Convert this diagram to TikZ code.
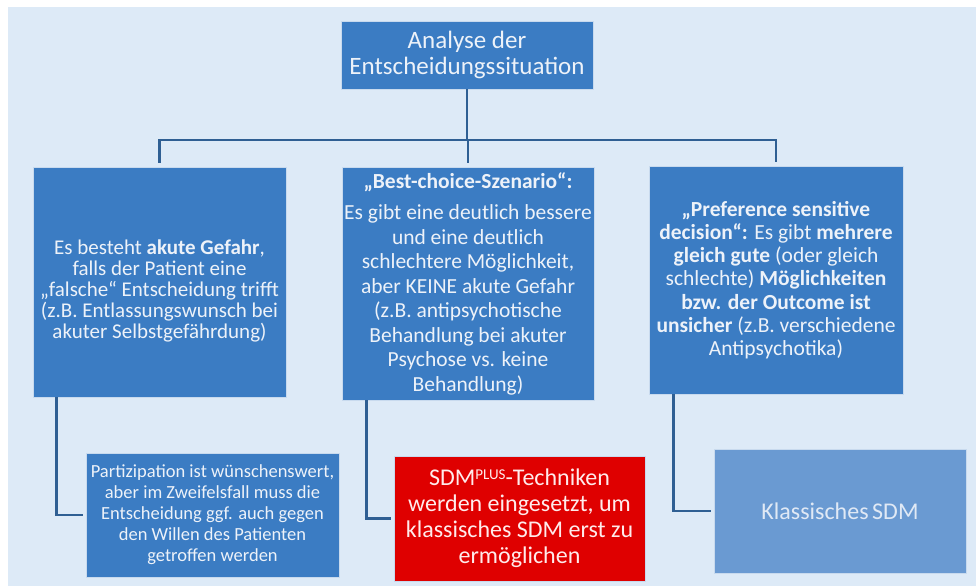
\documentclass[tikz,border=0pt]{standalone}
\usepackage{fontspec}
\setmainfont{Carlito}
\definecolor{sdmbg}{HTML}{DDEAF7}
\definecolor{sdmblue}{HTML}{3B7CC3}
\definecolor{sdmlight}{HTML}{6A9AD2}
\definecolor{sdmred}{HTML}{DF0000}
\definecolor{sdmline}{HTML}{2F5F93}
\definecolor{sdmtext}{HTML}{EDF2F9}
\definecolor{sdmrim}{HTML}{C8DAEE}

\begin{document}
\begin{tikzpicture}[x=1pt, y=-1pt,
        box/.style={
          draw=sdmrim, line width=0.8pt,
          fill=sdmblue, text=sdmtext,
          minimum width=252pt, align=center, inner sep=1pt,
        },
        plusbox/.style={box, fill=sdmred, text=white!92!red},
        classbox/.style={box, fill=sdmlight, text=sdmtext!90!sdmlight},
        conn/.style={draw=sdmline, line width=2.5pt},
      ]
      \fill[white] (0,0) rectangle (976,586);
      \fill[sdmbg] (8,7) rectangle (976,586);
      \useasboundingbox (0,0) rectangle (976,586);

      \node[box, minimum height=68pt, font=\fontsize{25}{26}\selectfont] (top) at (467,55)
        {Analyse der\\Entscheidungssituation};

      \node[box, minimum width=253pt, minimum height=230pt, font=\fontsize{21}{21}\selectfont] (gefahr) at (159.5,282)
        {\rule{0pt}{33pt}Es besteht \textbf{akute Gefahr},\\ falls der Patient eine\\ „falsche“ Entscheidung trifft\\
         (z.B. Entlassungswunsch bei\\ akuter Selbstgefährdung)};
      \node[box, minimum height=233pt, font=\fontsize{21.5}{24.5}\selectfont] (best) at (468,283.5)
        {\textbf{„Best-choice-Szenario“:}\\[7pt] Es gibt eine deutlich bessere\\ und eine deutlich\\
         schlechtere Möglichkeit,\\ aber KEINE akute Gefahr\\ (z.B. antipsychotische\\
         Behandlung bei akuter\\ Psychose vs. keine\\ Behandlung)};
      \node[box, minimum width=254pt, minimum height=228pt, font=\fontsize{21.5}{23.2}\selectfont] (pref) at (776,280)
        {\textbf{„Preference sensitive}\\ \textbf{decision“:} Es gibt \textbf{mehrere}\\
         \textbf{gleich gute} (oder gleich\\ schlechte) \textbf{Möglichkeiten}\\
         \textbf{bzw. der Outcome ist}\\ \textbf{unsicher} (z.B. verschiedene\\ Antipsychotika)};

      \node[box, minimum width=253pt, minimum height=124pt, font=\fontsize{18.5}{21}\selectfont] (partiz) at (212.5,515)
        {Partizipation ist wünschenswert,\\ aber im Zweifelsfall muss die\\ Entscheidung ggf. auch gegen\\
         den Willen des Patienten\\ getroffen werden};
      \node[plusbox, minimum width=251pt, minimum height=125pt, font=\fontsize{24}{26}\selectfont] (plus) at (519.5,518.5)
        {SDM\raisebox{0.55ex}{\fontsize{15}{15}\selectfont PLUS}-Techniken\\ werden eingesetzt, um\\
         klassisches SDM erst zu\\ ermöglichen};
      \node[classbox, minimum height=124pt, font=\fontsize{24}{26}\selectfont] (klass) at (840,511)
        {Klassisches\kern0.15em SDM};

      % tree below the analysis box
      \coordinate (bus) at (0,140);
      \draw[conn] (top.south) -- (top.south |- bus);
      \draw[conn, shorten >=4pt] (gefahr.north |- bus) -- (gefahr.north);
      \draw[conn, shorten >=4pt] (best.north |- bus) -- (best.north);
      \draw[conn, shorten >=4pt] (pref.north |- bus) -- (pref.north);
      \draw[conn] ([xshift=-1.25pt]gefahr.north |- bus) -- ([xshift=1.25pt]pref.north |- bus);

      \draw[conn, shorten >=3pt] ([xshift=24pt]gefahr.south west) |- (partiz.west);
      \draw[conn, shorten >=3pt] ([xshift=25pt]best.south west) |- (plus.west);
      \draw[conn, shorten >=3pt] ([xshift=25pt]pref.south west) |- (klass.west);
    \end{tikzpicture}
\end{document}
